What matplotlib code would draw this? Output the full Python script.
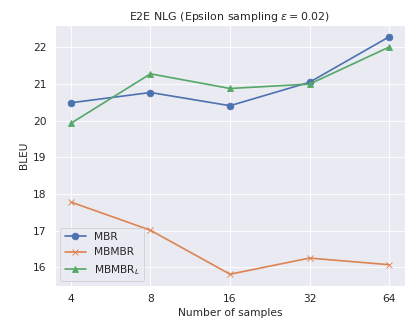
import numpy as np
import matplotlib
matplotlib.use("Agg")
import matplotlib.pyplot as plt
import seaborn as sns
from matplotlib.ticker import NullLocator

n_samples = [4, 8, 16, 32, 64]
tick_labels = ["4", "8", "16", "32", "64"]

bleu_mbr = [20.49, 20.77, 20.41, 21.05, 22.29]
bleu_mbmbr = [17.78, 17.01, 15.81, 16.25, 16.07]
bleu_mbmbr_l = [19.93, 21.28, 20.88, 21.00, 22.01]

sns.set_theme(style="darkgrid")
plt.rcParams["xtick.labelsize"] = 12
plt.rcParams["ytick.labelsize"] = 12
plt.rcParams["legend.fontsize"] = 12

dpi = 406 / 6.4
fig, ax = plt.subplots(figsize=(6.4, 320 / dpi))
fig.subplots_adjust(left=0.1355, right=0.9975, top=0.922, bottom=0.106)

lw = 1.9
ms = 7.5
ax.plot(n_samples, bleu_mbr, marker="o", lw=lw, ms=ms, label="MBR")
ax.plot(n_samples, bleu_mbmbr, marker="x", lw=lw, ms=ms, label="MBMBR")
ax.plot(n_samples, bleu_mbmbr_l, marker="^", lw=lw, ms=ms, label=r"MBMBR$_L$")

ax.set_xscale("log", base=2)
ax.set_xticks(n_samples)
ax.set_xticklabels(tick_labels)
ax.xaxis.set_minor_locator(NullLocator())

ax.set_xlabel("Number of samples")
ax.set_ylabel("BLEU")
ax.set_title(r"E2E NLG (Epsilon sampling $\epsilon = 0.02$)", fontsize=12.5)
ax.legend(loc="lower left")

fig.savefig("out.png", dpi=dpi)
